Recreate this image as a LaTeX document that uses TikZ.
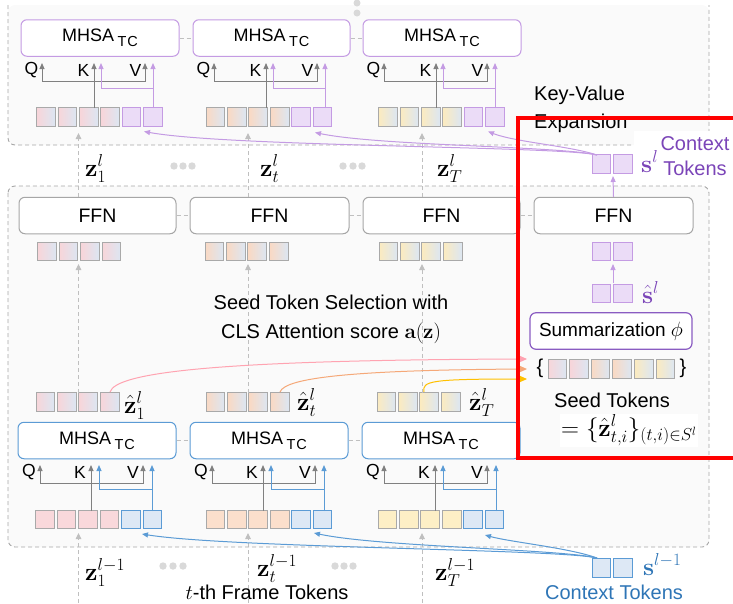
\documentclass[tikz,border=0pt]{standalone}
\usepackage[no-math]{fontspec}
\setmainfont{Liberation Sans}
\usetikzlibrary{arrows.meta}
\definecolor{blkfill}{HTML}{FAFAFA}
\definecolor{blkline}{HTML}{A6A6A6}
\definecolor{purB}{HTML}{C49BE3}
\definecolor{purD}{HTML}{7B45B8}
\definecolor{purF}{HTML}{EBDCF7}
\definecolor{bluB}{HTML}{5B9BD5}
\definecolor{bluD}{HTML}{2E75B6}
\definecolor{bluF}{HTML}{DDE8F5}
\definecolor{grayL}{HTML}{808080}
\definecolor{tokB}{HTML}{A9A9A9}
\definecolor{ffnB}{HTML}{A6A6A6}
\definecolor{darc}{HTML}{BFBFBF}
\definecolor{cPink}{HTML}{F8D5D9}
\definecolor{cPeach}{HTML}{FAD9C3}
\definecolor{cYel}{HTML}{FCEBBF}
\definecolor{cBlu}{HTML}{DCE6F2}
\definecolor{sPink}{HTML}{F9D8DB}
\definecolor{sPeach}{HTML}{FBDFCC}
\definecolor{sYel}{HTML}{FDEFC6}
\definecolor{aPink}{HTML}{FFA3B1}
\definecolor{aOrange}{HTML}{F5A878}
\definecolor{aYel}{HTML}{FFC000}
\definecolor{sumB}{HTML}{8A5CC2}
\definecolor{dotc}{HTML}{D9D9D9}
\newcommand{\mhsalbl}{MHSA\hspace{3.5pt}\raisebox{-5pt}{\fontsize{14.5}{14}\selectfont T\kern0.8pt C}}
\begin{document}
\begin{tikzpicture}[x=1pt,y=-1pt,
  txt/.style={font=\fontsize{20}{24}\selectfont, inner sep=0pt},
  mth/.style={font=\fontsize{26}{28}\selectfont, inner sep=0pt},
  qkv/.style={font=\fontsize{17.5}{18}\selectfont, inner sep=0pt},
  blkf/.style={fill=blkfill, rounded corners=7pt},
  blk/.style={draw=blkline, line width=0.9pt, dash pattern=on 4pt off 3pt, rounded corners=7pt},
  bbox/.style={rounded corners=6pt, fill=white, line width=1pt, minimum height=36.5pt, inner sep=0pt},
  mhsaP/.style={bbox, draw=purB, font=\fontsize{18}{20}\selectfont},
  mhsaB/.style={bbox, draw=bluB, font=\fontsize{18}{20}\selectfont},
  ffnb/.style={bbox, draw=ffnB, font=\fontsize{19.5}{22}\selectfont},
  tok/.style={minimum width=18.6pt, minimum height=18.4pt, inner sep=0pt, line width=0.9pt, draw=tokB},
  tokPk/.style={tok, left color=cPink, right color=cBlu},
  tokPe/.style={tok, left color=cPeach, right color=cBlu},
  tokYe/.style={tok, left color=cYel, right color=cBlu},
  tokSPk/.style={tok, fill=sPink},
  tokSPe/.style={tok, fill=sPeach},
  tokSYe/.style={tok, fill=sYel},
  tokPu/.style={tok, fill=purF, draw=purB},
  tokBl/.style={tok, fill=bluF, draw=bluB},
  tipS/.style={-{Triangle[length=6pt,width=5pt]}},
  garr/.style={draw=grayL, line width=0.9pt},
  parr/.style={draw=purB, line width=1pt},
  barr/.style={draw=bluB, line width=1pt},
  dar/.style={draw=darc, line width=0.9pt, dash pattern=on 4pt off 3pt, -{Triangle[length=6pt,width=5.5pt]}},
  dcon/.style={draw=darc, line width=0.9pt, dash pattern=on 4pt off 3pt},
  dotf/.style={fill=dotc}
]
\useasboundingbox (0,0) rectangle (733,603);

% blocks
\fill[blkf] (8,5) rectangle (709,145);
\draw[blk] (8,5) -- (8,145) -- (709,145) -- (709,5);
\fill[blkf] (8,186) rectangle (709,547);
\draw[blk] (8,186) rectangle (709,547);

% vertical dots at top
\fill[dotf] (357,3) circle (3.5pt);
\fill[dotf] (357,13) circle (3.5pt);

% ---------- top MHSA boxes ----------
\node[mhsaP, minimum width=158pt] (mt1) at (100,38) {\mhsalbl};
\node[mhsaP, minimum width=157pt] (mt2) at (271.5,38) {\mhsalbl};
\node[mhsaP, minimum width=158pt] (mt3) at (442,38) {\mhsalbl};
\draw[dcon] (mt1.east) -- (mt2.west);
\draw[dcon] (mt2.east) -- (mt3.west);

% ---------- FFN boxes ----------
\node[ffnb, minimum width=157pt] (f1) at (97.5,215.5) {FFN};
\node[ffnb, minimum width=159pt] (f2) at (269.5,215.5) {FFN};
\node[ffnb, minimum width=157pt] (f3) at (441.5,215.5) {FFN};
\node[ffnb, minimum width=159pt] (f4) at (613.5,215.5) {FFN};
\draw[dcon] (f1.east) -- (f2.west);
\draw[dcon] (f2.east) -- (f3.west);
\draw[dcon] (f3.east) -- (f4.west);

% ---------- bottom MHSA boxes ----------
\node[mhsaB, minimum width=158pt] (mb1) at (97,440.5) {\mhsalbl};
\node[mhsaB, minimum width=158pt] (mb2) at (269,440.5) {\mhsalbl};
\node[mhsaB, minimum width=158pt] (mb3) at (441,440.5) {\mhsalbl};
\draw[dcon] (mb1.east) -- (mb2.west);
\draw[dcon] (mb2.east) -- (mb3.west);

% ---------- token rows ----------
\foreach \i in {0,...,3} {
  \node[tokPk] (ua\i) at ({36.5+9.3+\i*21.45},117) {};
  \node[tokPe] (ub\i) at ({206+9.3+\i*21.45},117) {};
  \node[tokYe] (uc\i) at ({378.5+9.3+\i*21.45},117) {};
}
\foreach \i in {4,5} {
  \node[tokPu] (ua\i) at ({36.5+9.3+\i*21.45},117) {};
  \node[tokPu] (ub\i) at ({206+9.3+\i*21.45},117) {};
  \node[tokPu] (uc\i) at ({378.5+9.3+\i*21.45},117) {};
}
\foreach \i in {0,...,3} {
  \node[tokPk] (fa\i) at ({37.8+9.3+\i*21.45},251.5) {};
  \node[tokPe] (fb\i) at ({205+9.3+\i*21.45},251.5) {};
  \node[tokYe] (fc\i) at ({379+9.3+\i*21.45},251.5) {};
}
\foreach \i in {0,...,3} {
  \node[tokPk] (ha\i) at ({36+9.3+\i*21.45},402) {};
  \node[tokPe] (hb\i) at ({206+9.3+\i*21.45},402) {};
  \node[tokYe] (hc\i) at ({377+9.3+\i*21.45},402) {};
}
\foreach \i in {0,...,3} {
  \node[tokSPk] (la\i) at ({35.8+9.3+\i*21.45},519.5) {};
  \node[tokSPe] (lb\i) at ({206+9.3+\i*21.45},519.5) {};
  \node[tokSYe] (lc\i) at ({378+9.3+\i*21.45},519.5) {};
}
\foreach \i in {4,5} {
  \node[tokBl] (la\i) at ({35.8+9.3+\i*21.45},519.5) {};
  \node[tokBl] (lb\i) at ({206+9.3+\i*21.45},519.5) {};
  \node[tokBl] (lc\i) at ({378+9.3+\i*21.45},519.5) {};
}

% ---------- QKV wiring, top ----------
\foreach \bx in {21,193,363} {
  \node[qkv] at ({\bx+10.5},70) {Q};
  \node[qkv] at ({\bx+62.5},70) {K};
  \node[qkv] at ({\bx+114.5},70) {V};
  \draw[garr, {Triangle[length=6pt,width=5pt]}-{Triangle[length=6pt,width=5pt]}]
     ({\bx+21},63) -- ({\bx+21},81) -- ({\bx+124},81) -- ({\bx+124},63);
  \draw[garr, tipS] ({\bx+73},108) -- ({\bx+73},63);
  \draw[parr, tipS] ({\bx+132},108) -- ({\bx+132},63);
  \draw[parr, tipS] ({\bx+132},88) -- ({\bx+80},88) -- ({\bx+80},63);
}
% ---------- QKV wiring, bottom ----------
\foreach \bx in {18,190,362} {
  \node[qkv] at ({\bx+11},472) {Q};
  \node[qkv] at ({\bx+62},472) {K};
  \node[qkv] at ({\bx+115},472) {V};
  \draw[garr, {Triangle[length=6pt,width=5pt]}-{Triangle[length=6pt,width=5pt]}]
     ({\bx+22},465) -- ({\bx+22},483) -- ({\bx+125},483) -- ({\bx+125},465);
  \draw[garr, tipS] ({\bx+73},511) -- ({\bx+73},465);
  \draw[barr, tipS] ({\bx+134},511) -- ({\bx+134},465);
  \draw[barr, tipS] ({\bx+134},489) -- ({\bx+81},489) -- ({\bx+81},465);
}

% ---------- dashed vertical arrows ----------
\foreach \xx in {78.5,248,422} {
  \draw[dar] (\xx,603) -- (\xx,533);
  \draw[dar] (\xx,393) -- (\xx,264);
  \draw[dar] (\xx,197) -- (\xx,133);
}

% ---------- labels z ----------
\node[mth, anchor=base west] at (85,176) {$\mathbf{z}_1^l$};
\node[mth, anchor=base west] at (260,176) {$\mathbf{z}_t^l$};
\node[mth, anchor=base west] at (437,176) {$\mathbf{z}_T^l$};
\node[mth, anchor=base west, font=\fontsize{25}{27}\selectfont] at (124,413) {$\hat{\mathbf{z}}_1^l$};
\node[mth, anchor=base west, font=\fontsize{25}{27}\selectfont] at (297,410) {$\hat{\mathbf{z}}_t^l$};
\node[mth, anchor=base west, font=\fontsize{25}{27}\selectfont] at (469,410) {$\hat{\mathbf{z}}_T^l$};
\node[mth, anchor=base west] at (85,580) {$\mathbf{z}_1^{l-1}$};
\node[mth, anchor=base west] at (257,576) {$\mathbf{z}_t^{l-1}$};
\node[mth, anchor=base west] at (435,580) {$\mathbf{z}_T^{l-1}$};

% ellipsis dots
\foreach \xx in {174,183,192,343,353,362} {\fill[dotf] (\xx,166) circle (3.7pt);}
\foreach \xx in {163,173,183,335,344,353} {\fill[dotf] (\xx,566) circle (3.7pt);}

\node[txt] at (267,592) {$t$-th Frame Tokens};

% ---------- seed selection text ----------
\node[txt, anchor=base] at (331,309) {Seed Token Selection with};
\node[txt, anchor=base] at (331,338) {CLS Attention score {\fontsize{22.5}{24}\selectfont$\mathbf{a}(\mathbf{z})$}};

% ---------- right column ----------
\node[tokPu] (fs0) at (601.3,251.5) {};
\node[tokPu] (fs1) at (622.7,251.5) {};
\node[tokPu] (hs0) at (601.3,293.5) {};
\node[tokPu] (hs1) at (622.7,293.5) {};
\node[mth, anchor=base west, text=purD, font=\fontsize{25}{27}\selectfont] at (642,303) {$\hat{\mathbf{s}}^l$};
\draw[parr, tipS] (613,283) -- (613,264);

\node[bbox, draw=sumB, line width=1.2pt, minimum width=162pt, font=\fontsize{19}{22}\selectfont] (sum) at (611,331) {Summarization {\fontsize{22}{24}\selectfont$\phi$}};

\node[txt] at (540,368) {\{};
\node[txt] at (683,368) {\}};
\node[tokPk] (sd0) at (557.3,369) {};
\node[tokPk] (sd1) at (578.9,369) {};
\node[tokPe] (sd2) at (600.5,369) {};
\node[tokPe] (sd3) at (622.1,369) {};
\node[tokYe] (sd4) at (643.7,369) {};
\node[tokYe] (sd5) at (665.3,369) {};
\node[txt, anchor=base] at (612,407) {Seed Tokens};
\node[anchor=base west, inner sep=1pt, fill=white, font=\fontsize{24}{26}\selectfont] at (560,436) {$=\{\hat{\mathbf{z}}^l_{t,i}\}_{(t,i)\in S^l}$};

% seed arrows
\draw[draw=aPink, line width=1pt, -{Triangle[length=7pt,width=6pt]}] (110,392) .. controls (116,372) and (220,360) .. (527,359);
\draw[draw=aOrange, line width=1pt, -{Triangle[length=7pt,width=6pt]}] (280,392) .. controls (285,377) and (360,370) .. (527,369);
\draw[draw=aYel, line width=1pt, -{Triangle[length=7pt,width=6pt]}] (424,392) .. controls (422,381) and (430,379) .. (527,379);

% top context tokens
\fill[white] (634,131) rectangle (733,180);
\node[tokPu] (cs0) at (601.3,164) {};
\node[tokPu] (cs1) at (622.7,164) {};
\draw[parr, tipS] (f4.north) -- (613,176);
\node[mth, anchor=base west, text=purD, font=\fontsize{25}{27}\selectfont] at (641,172) {$\mathbf{s}^l$};
\node[txt, anchor=base, text=purD] at (695,150) {Context};
\node[txt, anchor=base, text=purD] at (695,175) {Tokens};
\coordinate (ps) at (597,155);
\draw[parr, tipS] (ps) .. controls (560,146) and (230,147) .. (144,131.5);
\draw[parr, tipS] (ps) .. controls (560,146) and (380,146) .. (315,132.5);
\draw[parr, tipS] (ps) .. controls (570,146) and (515,142) .. (488,131.5);

% bottom context tokens
\node[tokBl] (cb0) at (601.3,568) {};
\node[tokBl] (cb1) at (622.7,568) {};
\node[mth, anchor=base west, text=bluD, font=\fontsize{24}{26}\selectfont] at (643,575) {$\mathbf{s}^{l-1}$};
\node[txt, text=bluD] at (614,592) {Context Tokens};
\coordinate (bs) at (597,558);
\draw[barr, tipS] (bs) .. controls (560,549) and (230,548) .. (142,534);
\draw[barr, tipS] (bs) .. controls (560,549) and (380,547) .. (314,533);
\draw[barr, tipS] (bs) .. controls (570,548) and (510,542) .. (485,535);

% Key-Value Expansion
\node[txt, anchor=base west] at (534,100) {Key-Value};
\node[txt, anchor=base west] at (534,128) {Expansion};

% red highlight
\draw[draw=red, line width=3.5pt] (518,118) rectangle (760,458);
\end{tikzpicture}
\end{document}
